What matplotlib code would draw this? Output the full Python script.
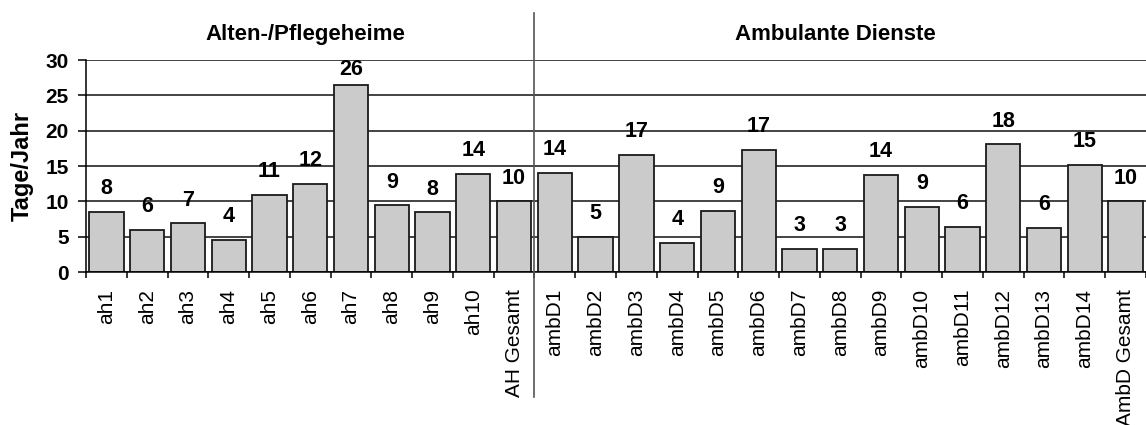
import matplotlib
matplotlib.use("Agg")
import matplotlib.pyplot as plt
import matplotlib.transforms as mtransforms
import numpy as np

plt.rcParams['font.family'] = ['Liberation Sans', 'DejaVu Sans']

categories = ['ah1', 'ah2', 'ah3', 'ah4', 'ah5', 'ah6', 'ah7', 'ah8', 'ah9', 'ah10', 'AH Gesamt',
              'ambD1', 'ambD2', 'ambD3', 'ambD4', 'ambD5', 'ambD6', 'ambD7', 'ambD8', 'ambD9',
              'ambD10', 'ambD11', 'ambD12', 'ambD13', 'ambD14', 'AmbD Gesamt']
values = [8.46, 6.0, 6.9, 4.5, 10.96, 12.45, 26.45, 9.45, 8.45, 13.9, 10.0,
          14.0, 5.0, 16.6, 4.1, 8.7, 17.3, 3.3, 3.3, 13.7,
          9.2, 6.35, 18.05, 6.2, 15.15, 10.0]
labels = ['8', '6', '7', '4', '11', '12', '26', '9', '8', '14', '10',
          '14', '5', '17', '4', '9', '17', '3', '3', '14',
          '9', '6', '18', '6', '15', '10']
groups = ['Alten-/Pflegeheime', 'Ambulante Dienste']

fig = plt.figure(figsize=(11.46, 4.25), dpi=100)
ax = fig.add_axes([86 / 1146, 153 / 425, 1 - 86 / 1146, 212 / 425])

x = np.arange(len(categories))
ax.bar(x, values, width=0.84, color='#cbcbcb', edgecolor='#1a1a1a', linewidth=1.3, zorder=2)

for xi, v, lab in zip(x, values, labels):
    ax.text(xi, min(v + 1.8, 27.2), lab, ha='center', va='bottom',
            fontsize=15.5, fontweight='bold', zorder=3, clip_on=False)

ax.set_ylim(0, 30)
ax.set_xlim(-0.5, -0.5 + 1060 / 41)
ax.set_yticks(range(0, 31, 5))
ax.yaxis.grid(True, color='#111111', linewidth=1.1)
ax.set_axisbelow(True)
ax.tick_params(axis='y', labelsize=15, length=5.5, width=1.1, pad=7)
for t in ax.get_yticklabels():
    t.set_fontweight('bold')

ax.set_xticks(x)
ax.set_xticklabels(categories, rotation=90, fontsize=15)
ax.tick_params(axis='x', which='major', length=0, pad=12)
ax.set_xticks(np.arange(len(categories) + 1) - 0.5, minor=True)
ax.tick_params(axis='x', which='minor', length=4, width=1.1)

ax.spines['top'].set_visible(False)
ax.spines['right'].set_visible(False)
ax.spines['left'].set_linewidth(1.1)
ax.spines['bottom'].set_linewidth(1.1)

ax.set_ylabel('Tage/Jahr', fontsize=17, fontweight='bold', labelpad=8)

# group separator and group titles
trans = mtransforms.blended_transform_factory(ax.transData, ax.transAxes)
ax.plot([10.5, 10.5], [1.222, -0.59], transform=trans, color='#555555',
        linewidth=1.2, clip_on=False, zorder=4)
ax.text(4.89, 1.12, groups[0], transform=trans, ha='center', va='center',
        fontsize=16, fontweight='bold')
ax.text(17.89, 1.12, groups[1], transform=trans, ha='center', va='center',
        fontsize=16, fontweight='bold')

fig.savefig('out.png', dpi=100)
